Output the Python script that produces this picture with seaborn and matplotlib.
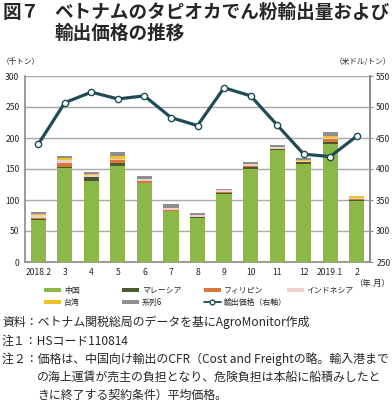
import numpy as np
import pandas as pd
import matplotlib
matplotlib.use("Agg")
import matplotlib.pyplot as plt
import seaborn as sns
from matplotlib.lines import Line2D
from matplotlib.patches import Patch

# Data (thousand tonnes / USD per tonne)
months = ["2018.2", "3", "4", "5", "6", "7", "8", "9", "10", "11", "12", "2019.1", "2"]
china = [68, 151, 131, 155, 127, 82, 70.5, 110, 149.5, 180.5, 157.5, 190, 98]
malaysia = [1.5, 2, 5.5, 5, 1, 1, 1.5, 2, 3, 2, 3, 3.5, 2.5]
philippines = [1, 6, 1, 5, 2.5, 0.5, 0.5, 0.5, 2.5, 0.5, 0.5, 5.5, 1]
indonesia = [6, 5.5, 3, 0.5, 3, 3, 3, 3, 2.5, 2.5, 2, 0.5, 1]
taiwan = [1, 4, 2, 5, 0.5, 0.5, 0.5, 0.5, 0.5, 0.5, 1.5, 3, 3.5]
series6 = [3.5, 3, 2, 7, 4, 7, 3, 2, 2.5, 2.5, 4, 7, 0.5]
price = [440, 507, 524, 513, 518, 483, 470, 531, 518, 471, 424, 420, 453]

series = [
    ("中国", china, "#8cb848"),
    ("マレーシア", malaysia, "#4b5a2c"),
    ("フィリピン", philippines, "#d9763a"),
    ("インドネシア", indonesia, "#f2cfc8"),
    ("台湾", taiwan, "#efbf2c"),
    ("系列6", series6, "#8e8e8e"),
]
line_color = "#1f4b57"
price_label = "輸出価格（右軸）"

sns.set_style("white")
plt.rcParams["font.family"] = ["Noto Sans CJK JP", "DejaVu Sans"]

fig = plt.figure(figsize=(3.92, 4.05), dpi=100)
ax = fig.add_axes([25 / 392, 1 - 262 / 405, 345 / 392, 186 / 405])

bottom = np.zeros(len(months))
for name, vals, col in series:
    df = pd.DataFrame({"month": months, "value": vals})
    sns.barplot(data=df, x="month", y="value", color=col, bottom=bottom,
                width=0.57, saturation=1, edgecolor="none", linewidth=0,
                ax=ax, zorder=3)
    bottom += np.array(vals)

ax.set_ylim(0, 300)
ax.set_yticks(range(0, 301, 50))
ax.set_xlim(-0.5, len(months) - 0.5)
ax.set_xticks(np.arange(len(months) + 1) - 0.5, minor=True)
ax.yaxis.grid(True, color="#a8a8a8", linewidth=1.0, zorder=0)
ax.set_axisbelow(True)
ax.set_xlabel("")
ax.set_ylabel("")
ax.tick_params(axis="both", which="major", labelsize=6.2, length=0, pad=4)
ax.tick_params(axis="x", which="minor", length=2.5, width=0.8, color="#8a8a8a", direction="out")
ax.spines["top"].set_visible(False)
for s in ["left", "right", "bottom"]:
    ax.spines[s].set_color("#8a8a8a")
    ax.spines[s].set_linewidth(1.2)

ax2 = ax.twinx()
ldf = pd.DataFrame({"pos": np.arange(len(months)), "price": price})
sns.lineplot(data=ldf, x="pos", y="price", color=line_color, linewidth=2.3,
             marker="o", markersize=4.5, markerfacecolor="white",
             markeredgecolor=line_color, markeredgewidth=1, ax=ax2, zorder=5)
ax2.set_ylim(250, 550)
ax2.set_yticks(range(250, 551, 50))
ax2.set_xlim(-0.5, len(months) - 0.5)
ax2.set_ylabel("")
ax2.set_xlabel("")
ax2.tick_params(axis="y", labelsize=6.2, length=2.5, color="#8a8a8a", pad=2)
for s in ["top", "left", "bottom"]:
    ax2.spines[s].set_visible(False)
ax2.spines["right"].set_color("#8a8a8a")
ax2.spines["right"].set_linewidth(1.2)

# unit labels
fig.text(2 / 392, 1 - 62 / 405, "（千トン）", fontsize=5.5, va="center")
fig.text(391 / 392, 1 - 62 / 405, "（米ドル/トン）", fontsize=5.5, va="center", ha="right")
fig.text(390 / 392, 1 - 283 / 405, "（年.月）", fontsize=6, va="center", ha="right")

# title
fig.text(3 / 392, 1 - 12 / 405, "図７", fontsize=13.4, fontweight="bold", va="center")
fig.text(54 / 392, 1 - 12 / 405, "ベトナムのタピオカでん粉輸出量および",
         fontsize=13.4, fontweight="bold", va="center")
fig.text(54 / 392, 1 - 33 / 405, "輸出価格の推移", fontsize=13.4, fontweight="bold", va="center")

# legend, one entry per slot (4 columns x 2 rows)
handles = [Patch(facecolor=c, edgecolor="none", label=n) for n, _, c in series]
handles.append(Line2D([0], [0], color=line_color, linewidth=1.3, marker="o", markersize=3.5,
                      markerfacecolor="white", label=price_label))
col_x = [44, 122, 204, 287]
row_y = [290, 302]
for i, h in enumerate(handles):
    r, c = divmod(i, 4)
    fig.legend(handles=[h], loc="center left",
               bbox_to_anchor=(col_x[c] / 392, 1 - row_y[r] / 405),
               frameon=False, fontsize=5.7, handlelength=2.1, handleheight=0.4,
               handletextpad=0.4, borderaxespad=0, borderpad=0)

# notes
fs = 8.6
fig.text(2 / 392, 1 - 322 / 405, "資料：ベトナム関税総局のデータを基にAgroMonitor作成", fontsize=fs, va="center")
fig.text(2 / 392, 1 - 341 / 405, "注１：HSコード110814", fontsize=fs, va="center")
fig.text(2 / 392, 1 - 359 / 405, "注２：価格は、中国向け輸出のCFR（Cost and Freightの略。輸入港まで", fontsize=fs, va="center")
fig.text(37 / 392, 1 - 377 / 405, "の海上運賃が売主の負担となり、危険負担は本船に船積みしたと", fontsize=fs, va="center")
fig.text(37 / 392, 1 - 395 / 405, "きに終了する契約条件）平均価格。", fontsize=fs, va="center")

fig.savefig("out.png", dpi=100)
